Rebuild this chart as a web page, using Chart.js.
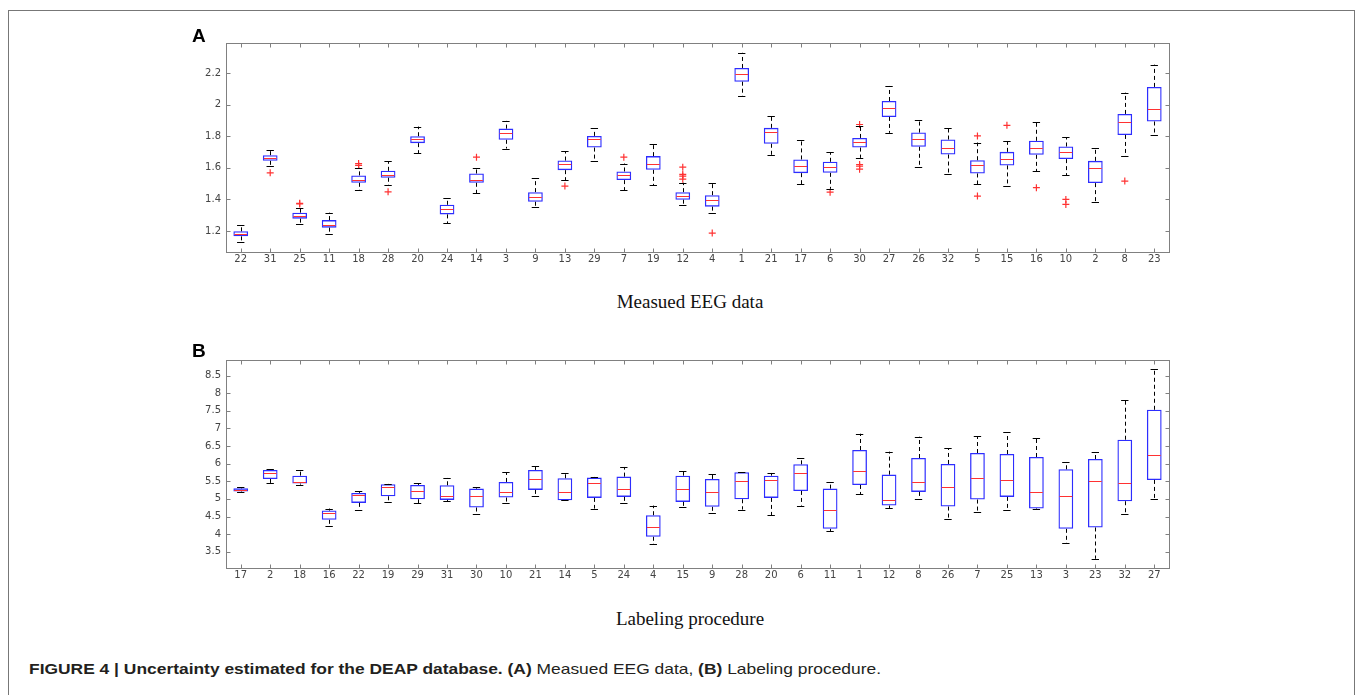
<!DOCTYPE html>
<html><head><meta charset="utf-8">
<script src="https://cdn.jsdelivr.net/npm/chart.js@4.4.0/dist/chart.umd.min.js"></script>
<style>
html,body{margin:0;padding:0;background:#fff;width:1358px;height:695px;overflow:hidden;position:relative;}
#frame{position:absolute;left:8px;top:10px;width:1347px;height:720px;border:1px solid #777;border-bottom:none;box-sizing:border-box;}
.wrap{position:absolute;left:0;width:1358px;height:280px;}
#wrapA{top:0;}
#wrapB{top:320px;}
.lbl{position:absolute;font:bold 19px "Liberation Sans",Arial,sans-serif;color:#000;line-height:1;}
.xt{position:absolute;font:19px "Liberation Serif","Times New Roman",serif;color:#111;transform:translate(-50%,-50%);white-space:nowrap;line-height:1;}
#cap{position:absolute;left:29px;top:661px;font:15px "Liberation Sans",Arial,sans-serif;color:#231f20;white-space:nowrap;transform-origin:0 0;line-height:1;}
</style></head>
<body>
<div id="frame"></div>
<div class="wrap" id="wrapA"><canvas id="cA" width="1358" height="280"></canvas></div>
<div class="wrap" id="wrapB"><canvas id="cB" width="1358" height="280"></canvas></div>
<div class="lbl" style="left:192px;top:26px;">A</div>
<div class="lbl" style="left:192px;top:341px;">B</div>
<div class="xt" style="left:690px;top:301px;">Measued EEG data</div>
<div class="xt" style="left:690px;top:618px;">Labeling procedure</div>
<div id="cap"><b>FIGURE 4 | Uncertainty estimated for the DEAP database. (A)</b> Measued EEG data, <b>(B)</b> Labeling procedure.</div>
<script>
// ---------- Panel A : Measued EEG data ----------
const labelsA = ['22','31','25','11','18','28','20','24','14','3','9','13','29','7','19','12','4','1','21','17','6','30','27','26','32','5','15','16','10','2','8','23'];
const loA  = [1.133,1.611,1.246,1.179,1.459,1.491,1.691,1.248,1.438,1.722,1.354,1.522,1.644,1.457,1.488,1.364,1.316,2.055,1.682,1.495,1.467,1.663,1.821,1.602,1.562,1.495,1.484,1.579,1.554,1.385,1.672,1.806];
const q1A  = [1.166,1.644,1.278,1.221,1.505,1.537,1.756,1.305,1.505,1.777,1.385,1.585,1.728,1.522,1.587,1.398,1.354,2.145,1.752,1.566,1.568,1.728,1.922,1.733,1.684,1.564,1.615,1.682,1.655,1.503,1.808,1.893];
const medA = [1.179,1.663,1.295,1.236,1.524,1.556,1.783,1.341,1.520,1.823,1.417,1.627,1.785,1.552,1.625,1.421,1.398,2.196,1.827,1.611,1.608,1.764,1.981,1.785,1.728,1.619,1.655,1.724,1.697,1.598,1.888,1.971];
const q3A  = [1.198,1.680,1.316,1.269,1.552,1.581,1.800,1.366,1.564,1.848,1.446,1.646,1.802,1.577,1.674,1.446,1.427,2.232,1.853,1.653,1.638,1.789,2.023,1.823,1.779,1.648,1.701,1.771,1.735,1.644,1.941,2.112];
const hiA  = [1.238,1.712,1.345,1.316,1.600,1.642,1.861,1.406,1.598,1.897,1.535,1.705,1.851,1.627,1.752,1.505,1.505,2.328,1.926,1.777,1.699,1.862,2.118,1.903,1.853,1.760,1.768,1.888,1.794,1.728,2.076,2.253];
const outliersA = [['31',1.568],['25',1.375],['25',1.371],['18',1.627],['18',1.615],['28',1.448],['14',1.667],['13',1.484],['7',1.667],['12',1.604],['12',1.558],['12',1.547],['12',1.528],['4',1.187],['6',1.446],['30',1.874],['30',1.621],['30',1.611],['30',1.591],['5',1.802],['5',1.421],['15',1.869],['16',1.474],['10',1.400],['10',1.368],['8',1.516]];
const yTicksA = [1.2,1.4,1.6,1.8,2,2.2];
const yRangeA = [1.067,2.39];

// ---------- Panel B : Labeling procedure ----------
const labelsB = ['17','2','18','16','22','19','29','31','30','10','21','14','5','24','4','15','9','28','20','6','11','1','12','8','26','7','25','13','3','23','32','27'];
const loB  = [5.19,5.443,5.406,4.236,4.689,4.915,4.877,4.934,4.575,4.896,5.094,4.962,4.726,4.887,3.717,4.774,4.604,4.698,4.538,4.811,4.085,5.132,4.736,5.009,4.443,4.632,4.698,4.708,3.745,3.302,4.575,4.991];
const q1B  = [5.208,5.566,5.434,4.406,4.887,5.075,4.99,4.972,4.755,5.038,5.255,4.962,5.028,5.057,3.925,4.915,4.774,4.99,5.028,5.226,4.151,5.396,4.811,5.198,4.783,4.981,5.057,4.726,4.151,4.189,4.934,5.538];
const medB = [5.255,5.745,5.48,4.604,5.104,5.33,5.226,5.094,5.094,5.189,5.566,5.198,5.443,5.292,4.198,5.292,5.189,5.51,5.547,5.736,4.689,5.792,4.972,5.472,5.349,5.594,5.538,5.198,5.094,5.5,5.443,6.245];
const q3B  = [5.30,5.82,5.66,4.67,5.17,5.415,5.396,5.387,5.292,5.481,5.821,5.585,5.604,5.632,4.538,5.66,5.566,5.755,5.66,5.981,5.292,6.387,5.689,6.16,5.991,6.302,6.274,6.189,5.84,6.132,6.679,7.528];
const hiB  = [5.33,5.84,5.82,4.726,5.217,5.425,5.443,5.594,5.33,5.755,5.925,5.736,5.623,5.906,4.811,5.783,5.698,5.755,5.736,6.17,5.472,6.849,6.34,6.764,6.443,6.783,6.896,6.717,6.047,6.321,7.802,8.679];
const outliersB = [];
const yTicksB = [3.5,4,4.5,5,5.5,6,6.5,7,7.5,8,8.5];
const yRangeB = [3.04,8.94];

const BLUE = 'rgb(45,45,255)', RED = 'rgb(255,50,50)', AXIS = '#808080';

const boxPlugin = {
  id: 'boxExtras',
  afterDatasetsDraw(chart) {
    const ds = chart.data.datasets[0];
    const meta = chart.getDatasetMeta(0);
    const y = chart.scales.y;
    const ctx = chart.ctx;
    ctx.save();
    for (let i = 0; i < ds.med.length; i++) {
      const bar = meta.data[i];
      const cx = bar.x, hw = bar.width / 2, cw = hw / 2;
      const pLo = y.getPixelForValue(ds.lo[i]), pHi = y.getPixelForValue(ds.hi[i]);
      const pQ1 = y.getPixelForValue(ds.data[i][0]), pQ3 = y.getPixelForValue(ds.data[i][1]);
      const pMed = y.getPixelForValue(ds.med[i]);
      const xc = Math.round(cx) + 0.5;
      ctx.strokeStyle = '#000'; ctx.lineWidth = 1; ctx.setLineDash([4, 3]);
      ctx.beginPath();
      ctx.moveTo(xc, pQ3); ctx.lineTo(xc, pHi);
      ctx.moveTo(xc, pQ1); ctx.lineTo(xc, pLo);
      ctx.stroke();
      ctx.setLineDash([]);
      ctx.beginPath();
      ctx.moveTo(cx - cw, Math.round(pHi) + 0.5); ctx.lineTo(cx + cw, Math.round(pHi) + 0.5);
      ctx.moveTo(cx - cw, Math.round(pLo) + 0.5); ctx.lineTo(cx + cw, Math.round(pLo) + 0.5);
      ctx.stroke();
      ctx.strokeStyle = RED;
      ctx.beginPath();
      ctx.moveTo(cx - hw + 1, Math.round(pMed) + 0.5); ctx.lineTo(cx + hw - 1, Math.round(pMed) + 0.5);
      ctx.stroke();
    }
    ctx.restore();
  },
  afterDraw(chart) {
    const { ctx, chartArea: a, scales: { x, y } } = chart;
    ctx.save();
    ctx.strokeStyle = AXIS; ctx.lineWidth = 1;
    const L = Math.round(a.left) + 0.5, R = Math.round(a.right) + 0.5, T = Math.round(a.top) + 0.5, B = Math.round(a.bottom) + 0.5;
    ctx.strokeRect(L, T, R - L, B - T);
    ctx.beginPath();
    x.ticks.forEach((t, i) => {
      const px = Math.round(x.getPixelForTick(i)) + 0.5;
      ctx.moveTo(px, B); ctx.lineTo(px, B - 4);
      ctx.moveTo(px, T); ctx.lineTo(px, T + 4);
    });
    y.ticks.forEach((t, i) => {
      const py = Math.round(y.getPixelForTick(i)) + 0.5;
      ctx.moveTo(L, py); ctx.lineTo(L + 4, py);
      ctx.moveTo(R, py); ctx.lineTo(R - 4, py);
    });
    ctx.stroke();
    ctx.restore();
  }
};

function makeChart(id, labels, lo, q1, med, q3, hi, outliers, yTicks, yRange, padTop, xH) {
  return new Chart(document.getElementById(id), {
    type: 'bar',
    data: {
      labels: labels,
      datasets: [{
        data: labels.map((_, i) => [q1[i], q3[i]]),
        lo: lo, hi: hi, med: med,
        backgroundColor: 'rgba(0,0,0,0)',
        borderColor: BLUE,
        borderWidth: 1.3,
        borderSkipped: false,
        barPercentage: 0.5,
        categoryPercentage: 1,
        order: 2
      }, {
        type: 'line',
        data: outliers.map(o => ({ x: o[0], y: o[1] })),
        showLine: false,
        pointStyle: 'cross',
        pointRadius: 3.5,
        pointBorderColor: RED,
        pointBackgroundColor: RED,
        pointBorderWidth: 1.2,
        order: 1
      }]
    },
    options: {
      responsive: false,
      animation: false,
      layout: { padding: { top: padTop, right: 189, left: 0, bottom: 0 } },
      plugins: { legend: { display: false }, tooltip: { enabled: false } },
      scales: {
        x: {
          grid: { display: false, drawTicks: false },
          border: { display: false },
          ticks: { autoSkip: false, maxRotation: 0, minRotation: 0, padding: 1, color: '#444', font: { family: 'DejaVu Sans', size: 10 } },
          afterFit(s) { s.height = xH; }
        },
        y: {
          min: yRange[0], max: yRange[1],
          grid: { display: false, drawTicks: false },
          border: { display: false },
          afterBuildTicks(s) { s.ticks = yTicks.map(v => ({ value: v })); },
          ticks: { padding: 5, color: '#444', font: { family: 'DejaVu Sans', size: 10 }, callback: v => String(v) },
          afterFit(s) { s.width = 226; }
        }
      }
    },
    plugins: [boxPlugin]
  });
}

makeChart('cA', labelsA, loA, q1A, medA, q3A, hiA, outliersA, yTicksA, yRangeA, 43, 28);
makeChart('cB', labelsB, loB, q1B, medB, q3B, hiB, outliersB, yTicksB, yRangeB, 40, 32);

// stretch caption to the reference's horizontal extent
const cap = document.getElementById('cap');
const w = cap.getBoundingClientRect().width;
cap.style.transform = 'scaleX(' + (852 / w) + ')';
</script>
</body></html>
